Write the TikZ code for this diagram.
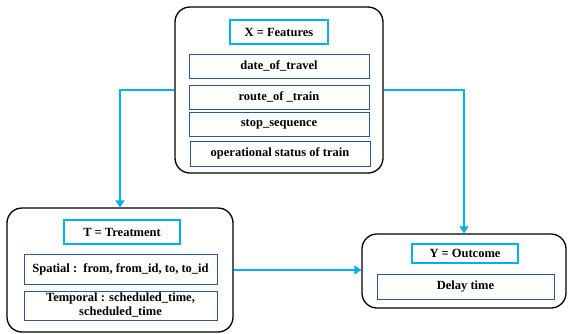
\documentclass[tikz,border=0pt]{standalone}
\usepackage{fontspec}
\setmainfont{Liberation Serif}
\usepackage{xcolor}
\usetikzlibrary{arrows.meta,positioning}
\definecolor{skyline}{RGB}{0,176,240}
\definecolor{navyline}{RGB}{47,85,151}

\begin{document}
\begin{tikzpicture}[
  x=1pt,y=-1pt,
  outer/.style={rectangle,draw=black,line width=1.3pt,rounded corners=15pt,fill=white},
  head/.style={rectangle,draw=skyline,line width=1.3pt,fill=white,font=\fontsize{12.5}{14}\selectfont\bfseries,inner sep=0pt},
  item/.style={rectangle,draw=navyline,line width=0.9pt,fill=white,font=\fontsize{12.5}{14}\selectfont\bfseries,align=center,inner sep=0pt},
  arr/.style={draw=skyline,line width=2pt,-{Triangle[length=7pt,width=9pt]}}
]
\useasboundingbox (0,0) rectangle (568,333);
% X = Features
\node[outer,minimum width=208pt,minimum height=166pt] (xbox) at (279,90) {};
\node[head,minimum width=98pt,minimum height=24pt] (xhead) at (279,32) {X = Features};
\node[item,minimum width=180pt,minimum height=24pt] (x1) at (279,66) {date\_of\_travel};
\node[item,minimum width=180pt,minimum height=24pt] (x2) at (279,97) {route\_of \_train};
\node[item,minimum width=180pt,minimum height=24pt] (x3) at (279,124) {stop\_sequence};
\node[item,minimum width=180pt,minimum height=25pt] (x4) at (280,153.5) {operational status of train};
% T = Treatment
\node[outer,minimum width=226pt,minimum height=124pt] (tbox) at (120,270) {};
\node[head,minimum width=116pt,minimum height=24pt] (thead) at (122,232) {T = Treatment};
\node[item,minimum width=193pt,minimum height=30pt] (t1) at (120.5,269) {Spatial :\ \ from, from\_id, to, to\_id};
\node[item,minimum width=193pt,minimum height=29pt] (t2) at (120.5,305.5) {Temporal : scheduled\_time,\\scheduled\_time};
% Y = Outcome
\node[outer,minimum width=204pt,minimum height=74pt] (ybox) at (464,271) {};
\node[head,minimum width=106pt,minimum height=19pt] (yhead) at (465,253.5) {Y = Outcome};
\node[item,minimum width=177pt,minimum height=25pt] (y1) at (465.5,286.5) {Delay time};
% links
\draw[arr] (xbox.west) -| (tbox.north);
\draw[arr] (xbox.east) -| (ybox.north);
\draw[arr] (tbox.east) -- (tbox.east -| ybox.west);
\end{tikzpicture}
\end{document}
